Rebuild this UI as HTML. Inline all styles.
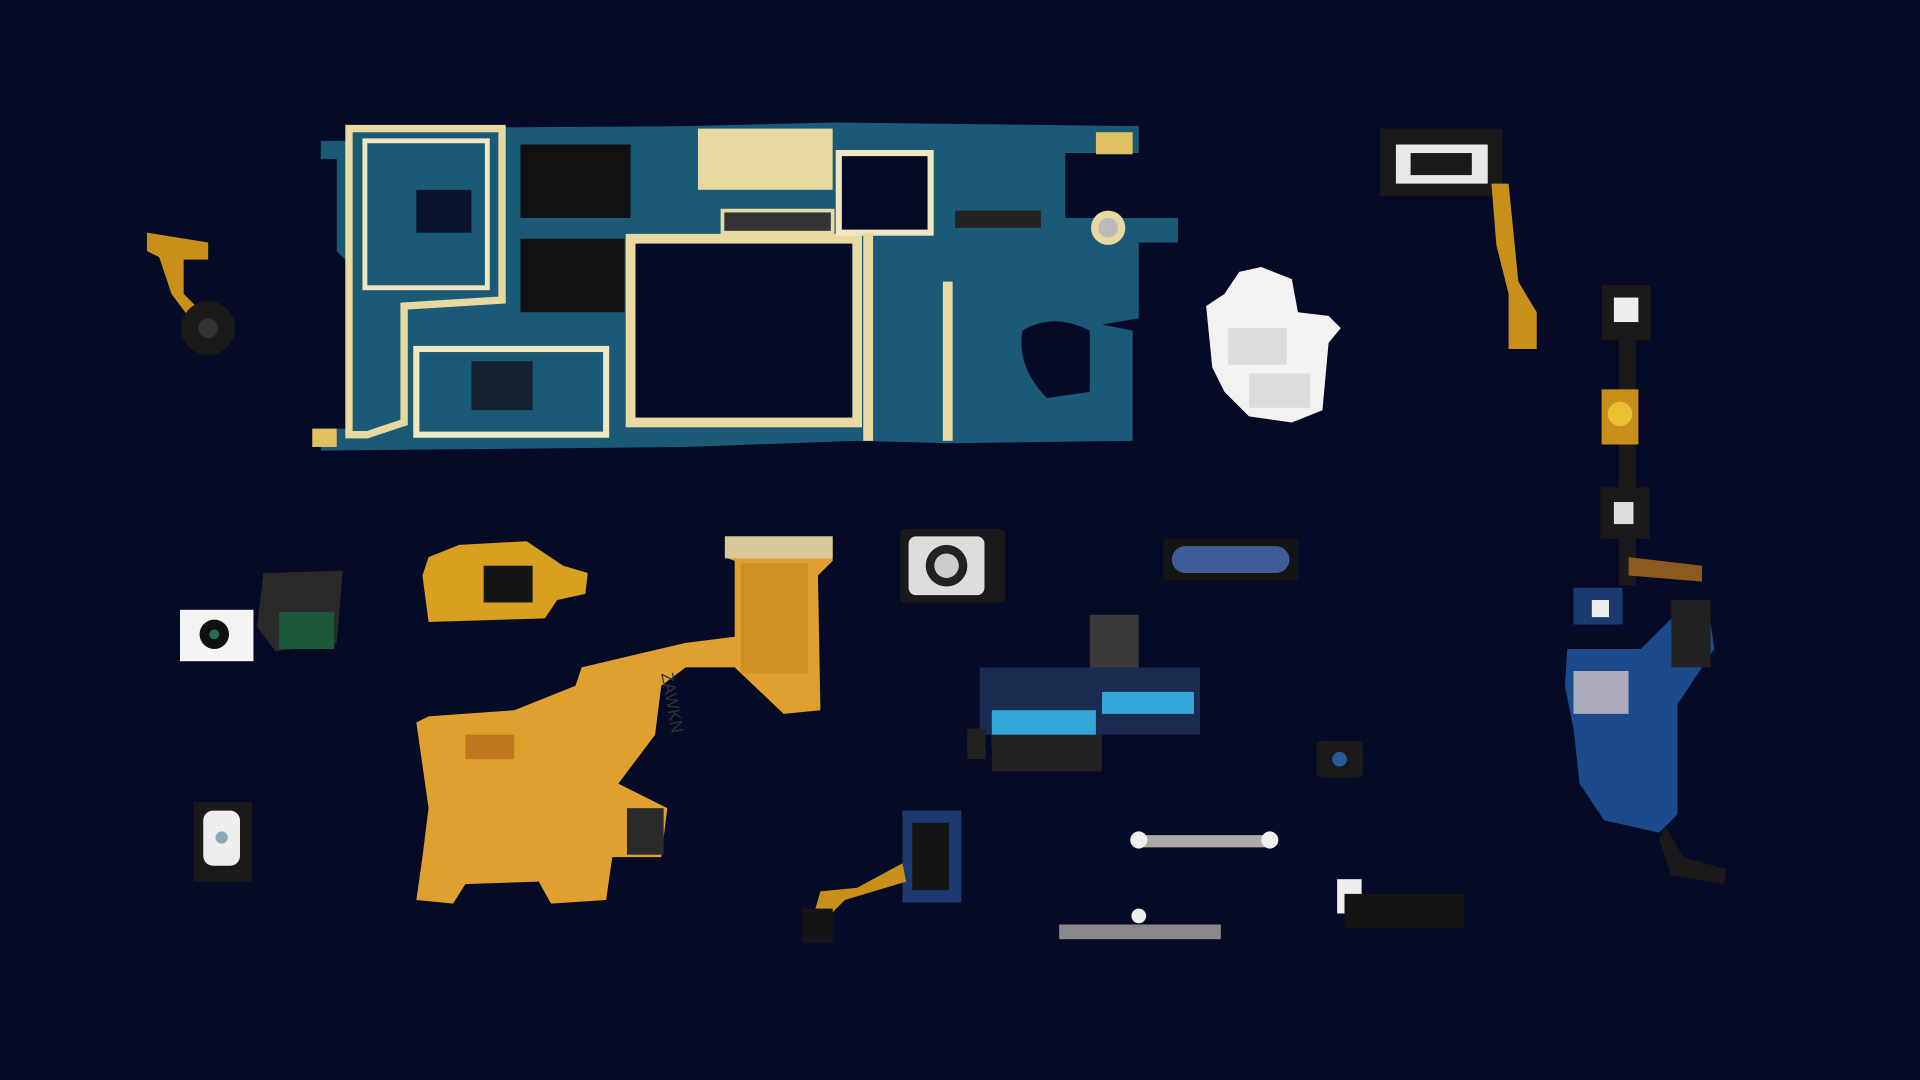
<!DOCTYPE html>
<html><head><meta charset="utf-8"><style>
html,body{margin:0;padding:0;background:#050a26;width:1920px;height:1080px;overflow:hidden}
svg{display:block}
</style></head><body>
<svg width="1920" height="1080" viewBox="0 0 1568 882" xmlns="http://www.w3.org/2000/svg">
<rect width="1568" height="882" fill="#050a26"/>
<g>
 <path d="M262 115 L285 115 L285 105 L560 103 L680 100 L930 103 L930 125 L870 125 L870 178 L962 178 L962 198 L930 198 L930 260 L900 265 L925 270 L925 360 L775 362 L700 360 L560 365 L262 368 L262 350 L285 350 L285 215 L275 205 L275 130 L262 130 Z" fill="#1b5a76"/>
 <path d="M285 105 L410 105 L410 245 L330 250 L330 345 L300 355 L285 355 Z" fill="none" stroke="#e8d9a0" stroke-width="6"/>
 <rect x="298" y="115" width="100" height="120" fill="none" stroke="#f0e6c0" stroke-width="4"/>
 <rect x="340" y="285" width="155" height="70" fill="none" stroke="#f0e6c0" stroke-width="5"/>
 <rect x="570" y="105" width="110" height="50" fill="#e8d9a0"/>
 <rect x="515" y="195" width="185" height="150" fill="none" stroke="#e8d9a0" stroke-width="8"/>
 <rect x="519" y="199" width="177" height="142" fill="#050a26"/>
 <rect x="685" y="125" width="75" height="65" fill="#050a26" stroke="#f0e6c0" stroke-width="5"/>
 <rect x="425" y="118" width="90" height="60" fill="#111"/>
 <rect x="425" y="195" width="85" height="60" fill="#111"/>
 <rect x="340" y="155" width="45" height="35" fill="#0c1430"/>
 <rect x="385" y="295" width="50" height="40" fill="#152030"/>
 <rect x="590" y="172" width="90" height="18" fill="#333" stroke="#e8d9a0" stroke-width="3"/>
 <rect x="780" y="172" width="70" height="14" fill="#222"/>
 <rect x="770" y="230" width="8" height="130" fill="#e8d9a0"/>
 <rect x="705" y="190" width="8" height="170" fill="#e8d9a0"/>
 <circle cx="905" cy="186" r="14" fill="#e8d9a0"/><circle cx="905" cy="186" r="8" fill="#bbb"/>
 <path d="M835 270 Q860 255 890 270 L890 320 L855 325 Q830 300 835 270 Z" fill="#050a26"/>
 <rect x="255" y="350" width="20" height="15" fill="#e0c060"/>
 <rect x="895" y="108" width="30" height="18" fill="#e0c060"/>
</g>
<g>
 <path d="M120 190 L170 198 L170 212 L150 212 L150 240 L165 255 L155 260 L140 240 L130 210 L120 205 Z" fill="#c8901a"/>
 <circle cx="170" cy="268" r="22" fill="#1a1a1a"/><circle cx="170" cy="268" r="8" fill="#333"/>
</g>
<g>
 <path d="M1012 222 L1030 218 L1055 228 L1060 255 L1085 258 L1095 268 L1085 280 L1080 335 L1055 345 L1020 340 L1000 320 L990 300 L985 250 L1000 240 Z" fill="#f2f2f2"/>
 <rect x="1003" y="268" width="48" height="30" fill="#dcdcdc"/>
 <rect x="1020" y="305" width="50" height="28" fill="#dcdcdc"/>
</g>
<g>
 <rect x="1127" y="105" width="100" height="55" fill="#1a1a1a"/>
 <path d="M1140 118 L1215 118 L1215 150 L1140 150 Z" fill="#e8e8e8"/>
 <rect x="1152" y="125" width="50" height="18" fill="#1a1a1a"/>
 <path d="M1218 150 L1232 150 L1240 230 L1255 255 L1255 285 L1232 285 L1232 240 L1222 200 Z" fill="#c8901a"/>
</g>
<g>
 <rect x="1308" y="233" width="40" height="45" fill="#1a1a1a"/><rect x="1318" y="243" width="20" height="20" fill="#eee"/>
 <rect x="1322" y="278" width="14" height="200" fill="#1a1a1a"/>
 <rect x="1308" y="318" width="30" height="45" fill="#c8901a"/><circle cx="1323" cy="338" r="10" fill="#e8c030"/>
 <rect x="1307" y="398" width="40" height="42" fill="#1a1a1a"/><rect x="1318" y="410" width="16" height="18" fill="#ddd"/>
 <path d="M1330 455 L1390 462 L1390 475 L1330 470 Z" fill="#8a5a20"/>
</g>
<g>
 <rect x="1285" y="480" width="40" height="30" fill="#1a3a70"/><rect x="1300" y="490" width="14" height="14" fill="#eee"/>
 <path d="M1280 530 L1340 530 L1370 500 L1395 495 L1400 530 L1370 575 L1370 665 L1355 680 L1310 670 L1290 640 L1285 595 L1278 560 Z" fill="#1d4a8a"/>
 <rect x="1285" y="548" width="45" height="35" fill="#aab"/>
 <rect x="1365" y="490" width="32" height="55" fill="#222"/>
 <path d="M1360 675 L1375 700 L1410 710 L1408 722 L1365 715 L1355 685 Z" fill="#1a1a1a"/>
</g>
<g>
 <path d="M215 468 L280 466 L275 525 L225 532 L210 512 Z" fill="#2a2a2a"/>
 <rect x="228" y="500" width="45" height="30" fill="#1a5a3a"/>
 <rect x="147" y="498" width="60" height="42" fill="#f4f4f4"/><circle cx="175" cy="518" r="12" fill="#111"/><circle cx="175" cy="518" r="4" fill="#2a6a5a"/>
</g>
<g>
 <path d="M350 455 L375 445 L430 442 L460 462 L480 468 L478 485 L455 490 L445 505 L350 508 L345 470 Z" fill="#d9a020"/>
 <rect x="395" y="462" width="40" height="30" fill="#151515"/>
</g>
<g>
 <path d="M592 438 L680 438 L680 458 L668 470 L670 580 L640 583 L600 545 L560 545 L540 560 L535 600 L505 640 L545 660 L540 700 L500 700 L495 735 L450 738 L440 720 L380 722 L370 738 L340 735 L345 700 L350 660 L340 590 L350 585 L420 580 L470 560 L475 545 L560 525 L600 520 L600 458 L592 455 Z" fill="#e0a030"/>
 <rect x="592" y="438" width="88" height="18" fill="#d8c898"/>
 <rect x="605" y="460" width="55" height="90" fill="#d09020"/>
 <rect x="512" y="660" width="30" height="38" fill="#2a2a2a"/>
 <text x="540" y="550" transform="rotate(80 540 550)" font-family="Liberation Sans, sans-serif" font-size="14" fill="#333">ZAWKN</text>
 <rect x="380" y="600" width="40" height="20" fill="#c07820"/>
</g>
<g>
 <rect x="735" y="432" width="86" height="60" fill="#1a1a1a" rx="4"/>
 <rect x="742" y="438" width="62" height="48" fill="#ddd" rx="6"/>
 <circle cx="773" cy="462" r="17" fill="#222"/><circle cx="773" cy="462" r="10" fill="#ccc"/>
</g>
<g>
 <rect x="950" y="440" width="110" height="34" fill="#151515"/>
 <rect x="957" y="446" width="96" height="22" rx="11" fill="#3e5c9a"/>
</g>
<g>
 <rect x="890" y="502" width="40" height="45" fill="#3a3a3a"/>
 <rect x="800" y="545" width="180" height="55" fill="#1a2a50"/>
 <rect x="810" y="580" width="85" height="30" fill="#33a8d8"/>
 <rect x="900" y="565" width="75" height="18" fill="#33a8d8"/>
 <rect x="810" y="600" width="90" height="30" fill="#222"/>
 <rect x="790" y="595" width="15" height="25" fill="#222"/>
</g>
<g><rect x="1075" y="605" width="38" height="30" fill="#1a1a1a" rx="4"/><circle cx="1094" cy="620" r="6" fill="#2a5a9a"/></g>
<g><rect x="158" y="655" width="48" height="65" fill="#1a1a1a"/><rect x="166" y="662" width="30" height="45" rx="8" fill="#eee"/><circle cx="181" cy="684" r="5" fill="#8ab"/></g>
<g>
 <rect x="737" y="662" width="48" height="75" fill="#1d3a70"/><rect x="745" y="672" width="30" height="55" fill="#151515"/>
 <path d="M737 705 L700 725 L670 728 L665 745 L680 745 L690 735 L740 720 Z" fill="#c8901a"/>
 <rect x="655" y="742" width="25" height="28" fill="#151515"/>
</g>
<g><rect x="930" y="682" width="110" height="10" rx="5" fill="#aaa"/><circle cx="930" cy="686" r="7" fill="#eee"/><circle cx="1037" cy="686" r="7" fill="#eee"/></g>
<g><rect x="865" y="755" width="132" height="12" fill="#888"/><circle cx="930" cy="748" r="6" fill="#eee"/></g>
<g><rect x="1092" y="718" width="20" height="28" fill="#eee"/><rect x="1098" y="730" width="98" height="28" fill="#151515"/></g>
</svg>
</body></html>
